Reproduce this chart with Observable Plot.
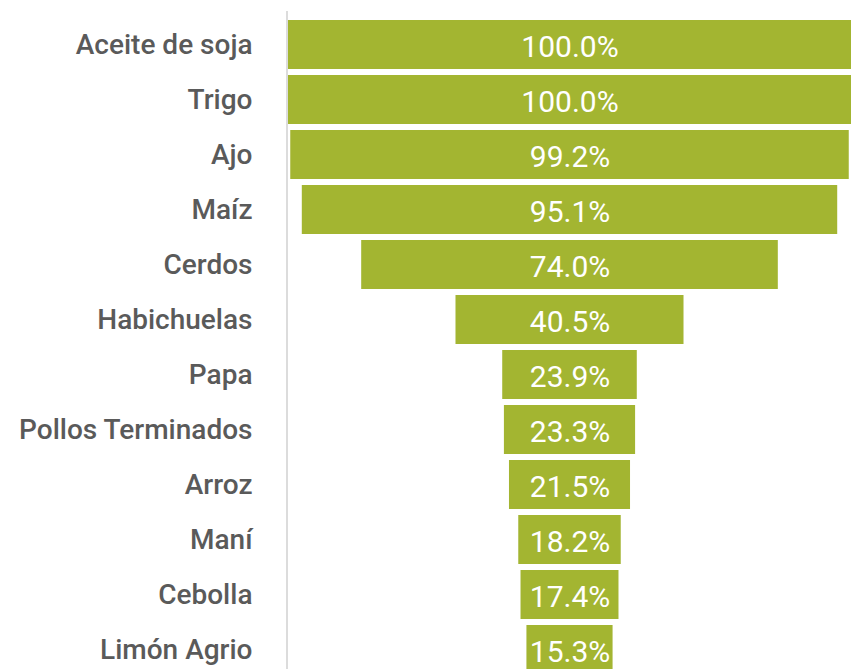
<!DOCTYPE html>
<html>
<head>
<meta charset="utf-8">
<script src="https://cdn.jsdelivr.net/npm/d3@7"></script>
<script src="https://cdn.jsdelivr.net/npm/@observablehq/plot@0.6"></script>
<style>
  html, body { margin: 0; padding: 0; background: #fff; overflow: hidden; }
  #chart svg { display: block; }
</style>
</head>
<body>
<div id="chart"></div>
<script>
const categories = ["Aceite de soja", "Trigo", "Ajo", "Maíz", "Cerdos", "Habichuelas", "Papa", "Pollos Terminados", "Arroz", "Maní", "Cebolla", "Limón Agrio"];
const values = [100.0, 100.0, 99.2, 95.1, 74.0, 40.5, 23.9, 23.3, 21.5, 18.2, 17.4, 15.3];

const data = categories.map((c, i) => ({category: c, value: values[i]}));
const barColor = "#a3b531";

const chart = Plot.plot({
  width: 863,
  height: 696,
  marginTop: 11,
  marginBottom: 13,
  marginLeft: 288,
  marginRight: 12,
  style: {fontFamily: "Roboto, sans-serif", background: "#fff"},
  x: {domain: [-50, 50], axis: null},
  y: {domain: categories, padding: 0.11, label: null},
  marks: [
    Plot.barX(data, {x1: d => -d.value / 2, x2: d => d.value / 2, y: "category", fill: barColor}),
    Plot.text(data, {x: 0, y: "category", text: d => d.value.toFixed(1) + "%", fill: "white", fontSize: 30, dy: 2}),
    Plot.ruleX([-50], {stroke: "#dcdcdc", strokeWidth: 2, dx: -1.5}),
    Plot.axisY({tickSize: 0, tickPadding: 36, fontSize: 28, fontWeight: 500, fill: "#5a5a5a", label: null})
  ]
});
document.getElementById("chart").appendChild(chart);
</script>
</body>
</html>
